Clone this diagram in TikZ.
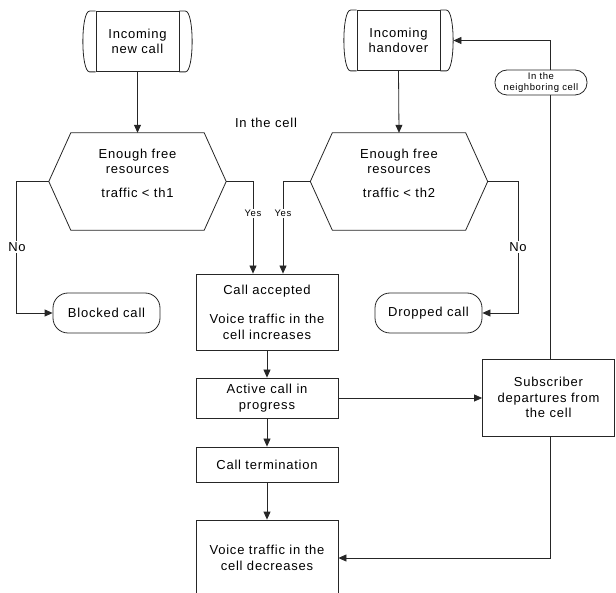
\documentclass[tikz,border=0pt]{standalone}
\usepackage{fontspec}
\setmainfont{Liberation Sans}[LetterSpace=6]
\usetikzlibrary{arrows.meta}
\begin{document}
\begin{tikzpicture}[x=1pt,y=-1pt,
  every node/.style={font=\fontsize{13}{15.5}\selectfont, align=center, inner sep=0pt},
  line/.style={draw=black!85, line width=0.8pt},
  arr/.style={line, -{Triangle[length=8pt,width=7pt]}},
  box/.style={line, minimum width=142pt},
  pill/.style={line, rounded corners=15pt, minimum height=40pt},
  term/.style={line, minimum width=83pt, minimum height=60pt},
  hexbox/.style={minimum width=177pt, minimum height=97pt},
  small/.style={font=\fontsize{9.5}{11}\selectfont},
  lbl/.style={fill=white, inner sep=1pt}]
\useasboundingbox (0,0) rectangle (616,593);

% terminal shapes
\node[term] (nc) at (137.5,41.5) {Incoming\\new call};
\node[term] (ho) at (398.5,40.5) {Incoming\\handover};
\foreach \n in {nc,ho}{
  \draw[line] (\n.north west) -- ([xshift=-6]\n.north west) .. controls ([xshift=-15]\n.north west) and ([xshift=-15]\n.south west) .. ([xshift=-6]\n.south west) -- (\n.south west);
  \draw[line] (\n.north east) -- ([xshift=6]\n.north east) .. controls ([xshift=15]\n.north east) and ([xshift=15]\n.south east) .. ([xshift=6]\n.south east) -- (\n.south east);
}

% hexagons
\node[hexbox] (h1) at (137.5,181.5) {};
\node[hexbox] (h2) at (399,181.5) {};
\foreach \n in {h1,h2}{
  \draw[line] (\n.west) -- ([xshift=22]\n.north west) -- ([xshift=-22]\n.north east) -- (\n.east) -- ([xshift=-22]\n.south east) -- ([xshift=22]\n.south west) -- cycle;
}
\node (h1t) at (137.5,173) {Enough free\\resources\\[8pt]traffic < th1};
\node (h2t) at (399,173) {Enough free\\resources\\[8pt]traffic < th2};

\node (cell) at (266,123) {In the cell};

% pills
\node[pill, minimum width=107pt] (bl) at (106.5,313) {Blocked call};
\node[pill, minimum width=107pt] (dr) at (428.5,313) {Dropped call};
\node[line, rounded corners=12pt, minimum width=92pt, minimum height=25pt, small] (nb) at (541,82.5) {In the\\neighboring cell};

% boxes
\node[box, minimum height=76pt] (acc) at (267,312) {Call accepted\\[14pt]Voice traffic in the\\cell increases};
\node[box, minimum height=40pt] (act) at (267,398) {Active call in\\progress};
\node[box, minimum height=35pt] (trm) at (267,464.5) {Call termination};
\node[box, minimum height=76pt] (dec) at (267,558) {Voice traffic in the\\cell decreases};
\node[line, minimum width=132pt, minimum height=77pt] (sub) at (548.5,397.5) {Subscriber\\departures from\\the cell};

% connectors
\draw[arr] (nc.south) -- (h1.north);
\draw[arr] (ho.south) -- (h2.north);
\draw[arr] (h1.east) -| ([xshift=-14]acc.north) node[pos=0.675, lbl, small] (y1) {Yes};
\draw[arr] (h2.west) -| ([xshift=16]acc.north) node[pos=0.675, lbl, small] (y2) {Yes};
\draw[arr] (h1.west) -- ++(-32,0) |- (bl.west);
\node[lbl] (no1) at (17,247) {No};
\draw[arr] (h2.east) -- ++(31,0) |- (dr.east);
\node[lbl] (no2) at (518,247) {No};
\draw[arr] (acc.south) -- (act.north);
\draw[arr] (act.south) -- (trm.north);
\draw[arr] (trm.south) -- (dec.north);
\draw[arr] (act.east) -- (act.east -| sub.west);
\draw[arr] ([xshift=9]nb.north) |- ([xshift=13]ho.east);
\draw[line] ([xshift=9]nb.south) -- ([xshift=9]nb.south |- sub.north);
\draw[arr] ([xshift=1.5]sub.south) |- (dec.east);
\end{tikzpicture}
\end{document}
